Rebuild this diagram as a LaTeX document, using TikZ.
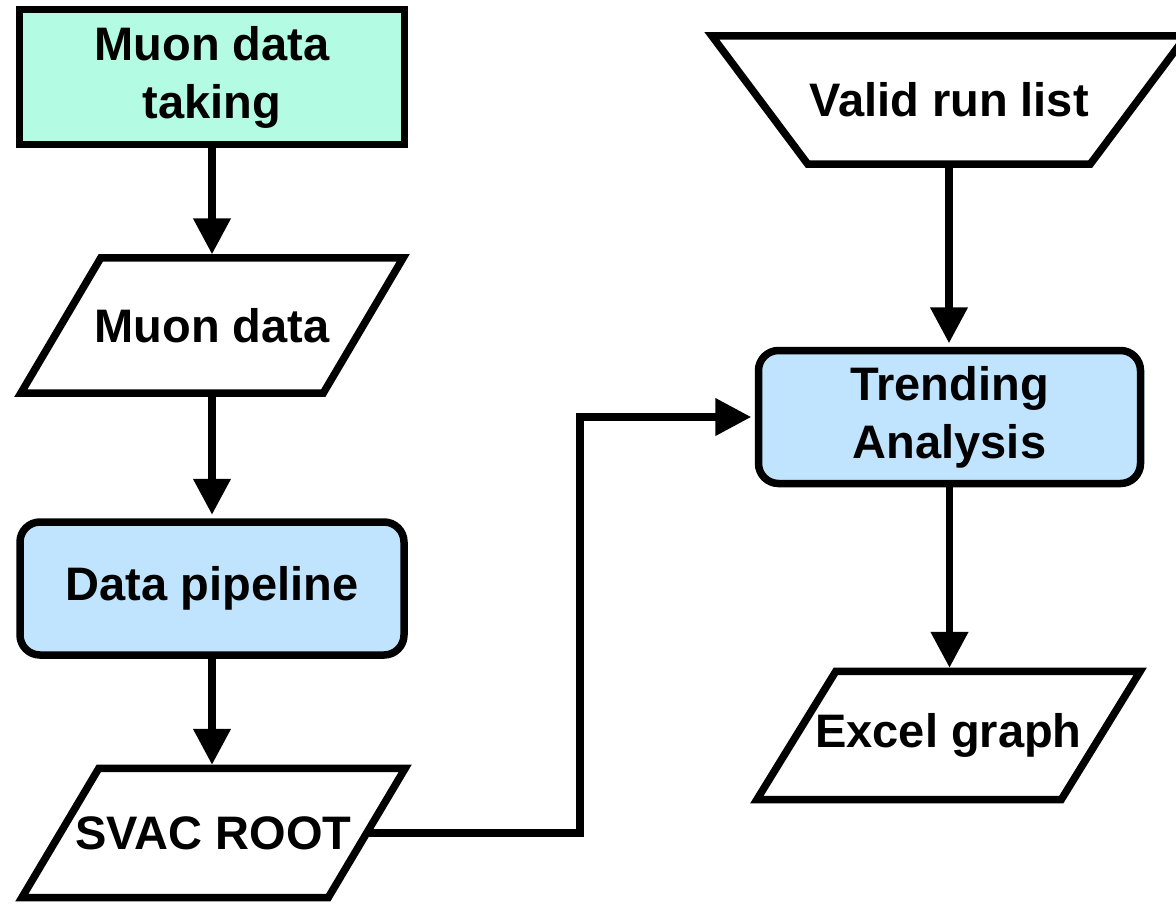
\documentclass[tikz,border=0pt]{standalone}
\usepackage{fontspec}
\setmainfont{Liberation Sans}
\usetikzlibrary{arrows.meta}
\definecolor{mintfill}{RGB}{179,251,226}
\definecolor{procfill}{RGB}{192,228,253}
\begin{document}
\begin{tikzpicture}[x=1pt,y=-1pt,
  label/.style={inner sep=0pt, align=center, font=\fontsize{47}{58}\selectfont\bfseries},
  boxshape/.style={label, draw=black, line width=7.5pt},
  plainbox/.style={boxshape, fill=mintfill, minimum width=385pt, minimum height=135pt},
  procbox/.style={boxshape, fill=procfill, rounded corners=20pt, minimum width=384pt, minimum height=133pt},
  frame/.style={label, minimum width=#1},
  outline/.style={draw=black, line width=7.5pt, line join=miter},
  flow/.style={draw=black, line width=7.5pt, shorten >=3.5pt, -{Triangle[length=36pt,width=36pt]}}]
\useasboundingbox (0,0) rectangle (1176,903);
\fill[white] (0,0) rectangle (1176,903);

% left column
\node[plainbox] (take) at (212,77) {Muon data\\taking};
\node[frame=382pt, minimum height=135pt] (md) at (212,325.5) {Muon data};
\node[procbox] (pipe) at (212,588.5) {Data pipeline};
\node[frame=383pt, minimum height=129pt] (svac) at (213.5,833) {SVAC ROOT};

% right column
\node[frame=474pt, minimum height=128pt] (valid) at (949,100) {Valid run list};
\node[procbox, minimum width=382pt] (trend) at (949.5,417) {Trending\\Analysis};
\node[frame=383pt, minimum height=128pt] (excel) at (948.5,735.5) {Excel graph};

% data (parallelogram) and input (trapezium) outlines
\draw[outline] ([xshift=80pt]md.north west) -- (md.north east)
  -- ([xshift=-80pt]md.south east) -- (md.south west) -- cycle;
\draw[outline] ([xshift=77pt]svac.north west) -- (svac.north east)
  -- ([xshift=-77pt]svac.south east) -- (svac.south west) -- cycle;
\draw[outline] ([xshift=79pt]excel.north west) -- (excel.north east)
  -- ([xshift=-79pt]excel.south east) -- (excel.south west) -- cycle;
\draw[outline] (valid.north west) -- (valid.north east)
  -- ([xshift=-96pt]valid.south east) -- ([xshift=96pt]valid.south west) -- cycle;

% connectors
\coordinate (jog) at (580,417);
\draw[flow] (take.south) -- (md.north);
\draw[flow] (md.south) -- (pipe.north);
\draw[flow] (pipe.south) -- (pipe.south |- svac.north);
\draw[flow] ([xshift=-40pt]svac.east) -| (jog) -- (trend.west);
\draw[flow] (valid.south) -- (valid.south |- trend.north);
\draw[flow] (trend.south) -- (trend.south |- excel.north);
\end{tikzpicture}
\end{document}
